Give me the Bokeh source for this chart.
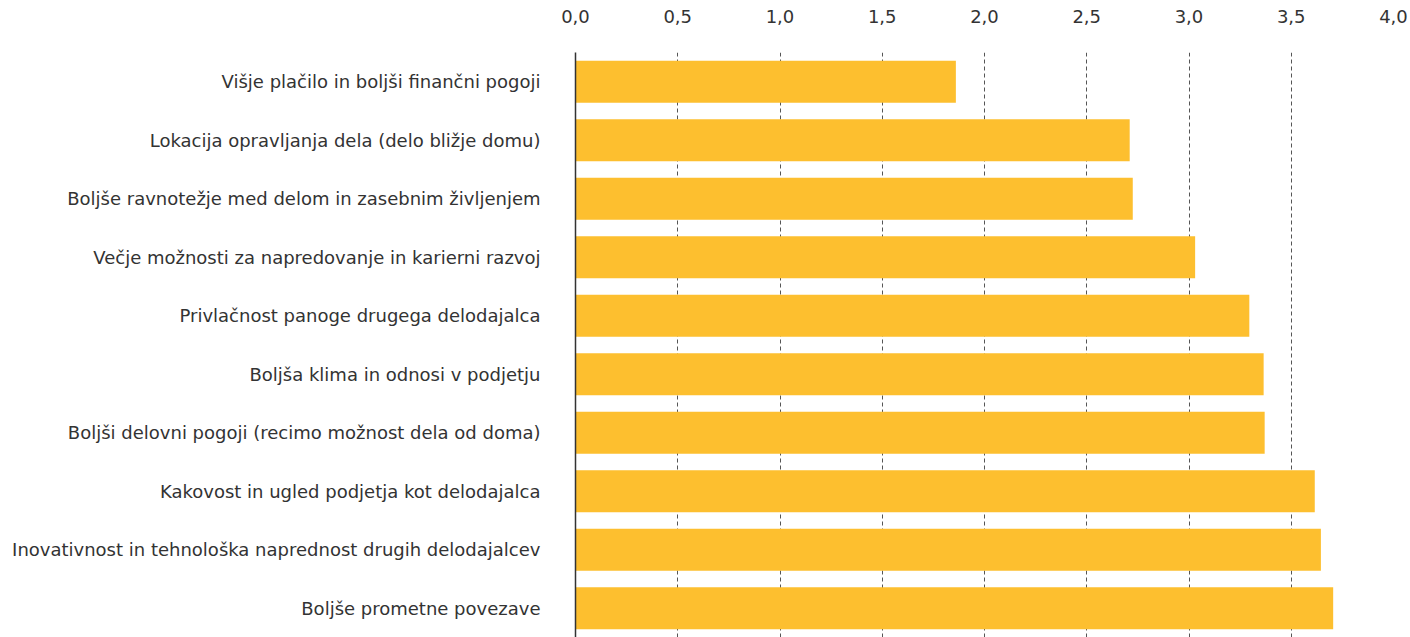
from bokeh.plotting import figure
from bokeh.models import ColumnDataSource, FixedTicker, FactorRange, Range1d
from bokeh.embed import file_html
from bokeh.resources import INLINE

categories = [
    "Višje plačilo in boljši finančni pogoji",
    "Lokacija opravljanja dela (delo bližje domu)",
    "Boljše ravnotežje med delom in zasebnim življenjem",
    "Večje možnosti za napredovanje in karierni razvoj",
    "Privlačnost panoge drugega delodajalca",
    "Boljša klima in odnosi v podjetju",
    "Boljši delovni pogoji (recimo možnost dela od doma)",
    "Kakovost in ugled podjetja kot delodajalca",
    "Inovativnost in tehnološka naprednost drugih delodajalcev",
    "Boljše prometne povezave",
]
values = [1.86, 2.71, 2.725, 3.03, 3.295, 3.365, 3.37, 3.615, 3.645, 3.705]
tick_values = [0.0, 0.5, 1.0, 1.5, 2.0, 2.5, 3.0, 3.5, 4.0]
tick_labels = ["0,0", "0,5", "1,0", "1,5", "2,0", "2,5", "3,0", "3,5", "4,0"]

FONT = "DejaVu Sans"
TEXT = "#333333"

src = ColumnDataSource(dict(cat=categories, val=values))

p = figure(
    width=1410, height=637,
    y_range=FactorRange(factors=list(reversed(categories))),
    x_range=Range1d(0, 4),
    x_axis_location="above",
    output_backend="svg", toolbar_location=None,
    min_border_left=575, min_border_right=17, min_border_top=52, min_border_bottom=0,
)
p.outline_line_color = None
p.background_fill_color = "white"

p.hbar(y="cat", right="val", left=0, height=0.72, source=src,
       fill_color="#fdbf2f", line_color=None)

xa = p.xaxis[0]
xa.ticker = FixedTicker(ticks=tick_values)
xa.major_label_overrides = {t: l for t, l in zip(tick_values, tick_labels)}
xa.axis_line_color = None
xa.major_tick_line_color = None
xa.minor_tick_line_color = None
xa.major_label_standoff = 24
xa.major_label_text_font = FONT
xa.major_label_text_font_size = "18px"
xa.major_label_text_color = TEXT

ya = p.yaxis[0]
ya.axis_line_color = "#333333"
ya.axis_line_width = 1.5
ya.major_tick_line_color = None
ya.minor_tick_line_color = None
ya.major_label_standoff = 29
ya.major_label_text_font = FONT
ya.major_label_text_font_size = "18px"
ya.major_label_text_color = TEXT

p.ygrid.grid_line_color = None
p.xgrid.grid_line_color = "#555555"
p.xgrid.grid_line_dash = "4 3"
p.xgrid.grid_line_width = 1

open("out.html", "w").write(file_html(p, INLINE))
